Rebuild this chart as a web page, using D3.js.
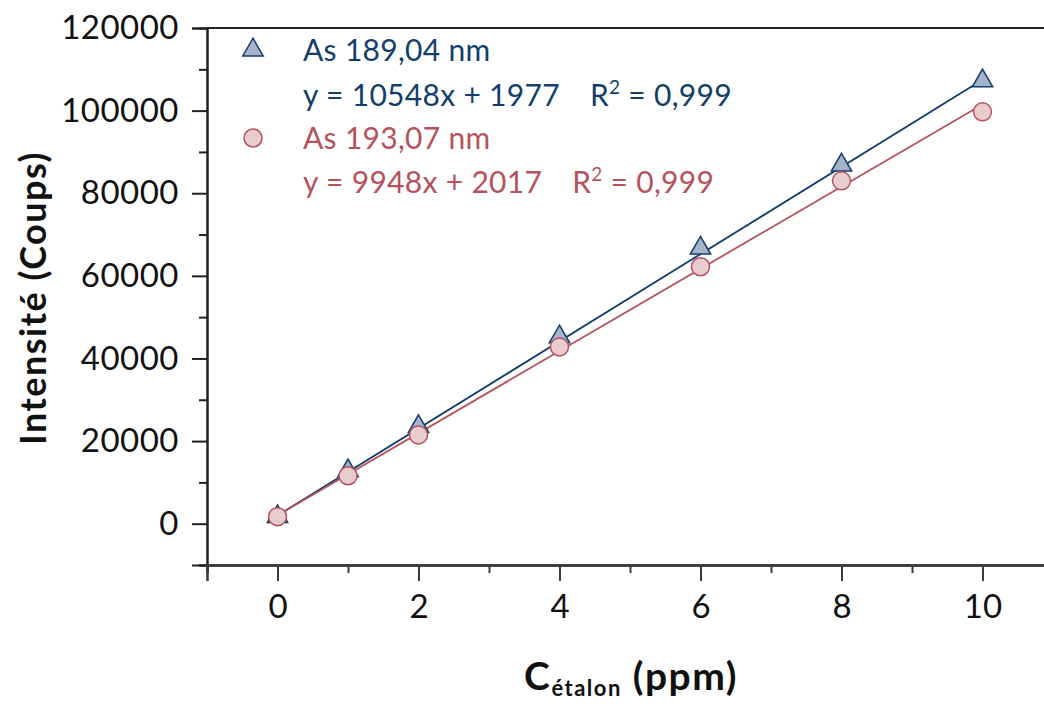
<!DOCTYPE html>
<html>
<head>
<meta charset="utf-8">
<script src="https://cdn.jsdelivr.net/npm/d3@7"></script>
<style>
  body { margin: 0; background: #fff; }
  text { font-family: Lato, "DejaVu Sans", sans-serif; }
</style>
</head>
<body>
<div id="main"></div>
<script>
var concentrations = [0, 1, 2, 4, 6, 8, 10];
var as189 = [1700, 12800, 23500, 45200, 66700, 86800, 107200];
var as193 = [1700, 11600, 21500, 42800, 62200, 83000, 99700];
var seriesNames = ["As 189,04 nm", "As 193,07 nm"];
var slopes = [10548, 9948];
var intercepts = [1977, 2017];
var equations = ["y = 10548x + 1977", "y = 9948x + 2017"];
var r2 = ["0,999", "0,999"];
var yTicks = [0, 20000, 40000, 60000, 80000, 100000, 120000];
var xTicks = [0, 2, 4, 6, 8, 10];

var outerWidth = 1044;
var outerHeight = 704;

var blue = "#123e6b";
var red = "#b5525c";

var xScale = d3.scaleLinear().domain([-1, 11]).range([207, 1053]);
var yScale = d3.scaleLinear().domain([-10000, 120000]).range([565, 28]);

var svg = d3.select("#main")
    .append("svg")
    .attr("width", outerWidth)
    .attr("height", outerHeight);

// top frame line
svg.append("line")
    .attr("x1", xScale(-1)).attr("x2", outerWidth)
    .attr("y1", yScale(120000)).attr("y2", yScale(120000))
    .attr("stroke", "#222").attr("stroke-width", 2);

// y axis
var yMinor = d3.range(-10000, 120001, 20000);
var yAxisG = svg.append("g")
    .attr("transform", "translate(" + xScale(-1) + ",0)");
yAxisG.append("g")
    .call(d3.axisLeft(yScale).tickValues(yMinor).tickSize(8).tickFormat(""));
yAxisG.append("g")
    .call(d3.axisLeft(yScale).tickValues(yTicks).tickSize(15).tickPadding(13).tickFormat(d => d));
yAxisG.selectAll(".domain").attr("stroke", "#222").attr("stroke-width", 2);
yAxisG.selectAll(".tick line").attr("stroke", "#222").attr("stroke-width", 2);
yAxisG.selectAll(".tick text")
    .attr("fill", "#111")
    .style("font-size", "33px")
    .style("letter-spacing", "0.5px");

// x axis
var xMinor = [-1, 1, 3, 5, 7, 9, 11];
var xAxisG = svg.append("g")
    .attr("transform", "translate(0," + yScale(-10000) + ")");
xAxisG.append("g")
    .call(d3.axisBottom(xScale).tickValues(xMinor).tickSize(8).tickFormat(""));
xAxisG.append("g")
    .call(d3.axisBottom(xScale).tickValues(xTicks).tickSize(16).tickPadding(14).tickFormat(d => d));
xAxisG.selectAll(".domain").attr("stroke", "#3a3a3a").attr("stroke-width", 2.5);
xAxisG.selectAll(".tick line").attr("stroke", "#3a3a3a").attr("stroke-width", 2);
xAxisG.selectAll(".tick text")
    .attr("fill", "#111")
    .style("font-size", "33px");

// axis titles
svg.append("text")
    .attr("transform", "translate(46,298) rotate(-90)")
    .attr("text-anchor", "middle")
    .style("font-size", "36px")
    .style("font-weight", "bold")
    .style("letter-spacing", "1.5px")
    .attr("fill", "#111")
    .text("Intensité (Coups)");

var xt = svg.append("text")
    .attr("x", 631).attr("y", 690)
    .attr("text-anchor", "middle")
    .style("font-weight", "bold")
    .style("letter-spacing", "1.5px")
    .attr("fill", "#111");
xt.append("tspan").style("font-size", "39px").text("C");
xt.append("tspan").style("font-size", "22px").attr("dy", 6).text("étalon");
xt.append("tspan").style("font-size", "39px").attr("dy", -6).text(" (ppm)");

// fit lines
var fitColors = [blue, red];
slopes.forEach(function(s, i) {
    svg.append("line")
        .attr("x1", xScale(0)).attr("y1", yScale(intercepts[i]))
        .attr("x2", xScale(10)).attr("y2", yScale(s * 10 + intercepts[i]))
        .attr("stroke", fitColors[i]).attr("stroke-width", 1.8);
});

// points
var tri = d3.symbol().type(d3.symbolTriangle).size(180);
svg.selectAll("path.tri")
    .data(concentrations)
    .enter()
    .append("path")
    .attr("class", "tri")
    .attr("d", tri)
    .attr("transform", (d, i) => "translate(" + xScale(d) + "," + yScale(as189[i]) + ")")
    .attr("fill", "#a6b3cb")
    .attr("stroke", blue)
    .attr("stroke-width", 1.5);

svg.selectAll("circle.pt")
    .data(concentrations)
    .enter()
    .append("circle")
    .attr("class", "pt")
    .attr("cx", d => xScale(d))
    .attr("cy", (d, i) => yScale(as193[i]))
    .attr("r", 9)
    .attr("fill", "#e8ccd0")
    .attr("stroke", red)
    .attr("stroke-width", 1.5);

// legend
var legend = svg.append("g");
legend.append("path")
    .attr("d", tri)
    .attr("transform", "translate(253,50)")
    .attr("fill", "#a6b3cb").attr("stroke", blue).attr("stroke-width", 1.5);
legend.append("circle")
    .attr("cx", 253).attr("cy", 138).attr("r", 9)
    .attr("fill", "#e8ccd0").attr("stroke", red).attr("stroke-width", 1.5);

var legendRows = [
    {y: 61, color: blue, text: seriesNames[0]},
    {y: 106, color: blue, eq: equations[0], r: r2[0]},
    {y: 149, color: red, text: seriesNames[1]},
    {y: 193, color: red, eq: equations[1], r: r2[1]}
];
legendRows.forEach(function(row) {
    var t = legend.append("text")
        .attr("x", 303).attr("y", row.y)
        .attr("fill", row.color)
        .style("font-size", "30px")
        .style("letter-spacing", "0.3px");
    if (row.text) {
        t.text(row.text);
    } else {
        t.append("tspan").text(row.eq);
        t.append("tspan").attr("dx", 30).text("R");
        t.append("tspan").style("font-size", "19px").attr("dy", -12).text("2");
        t.append("tspan").attr("dy", 12).text(" = " + row.r);
    }
});
</script>
</body>
</html>
